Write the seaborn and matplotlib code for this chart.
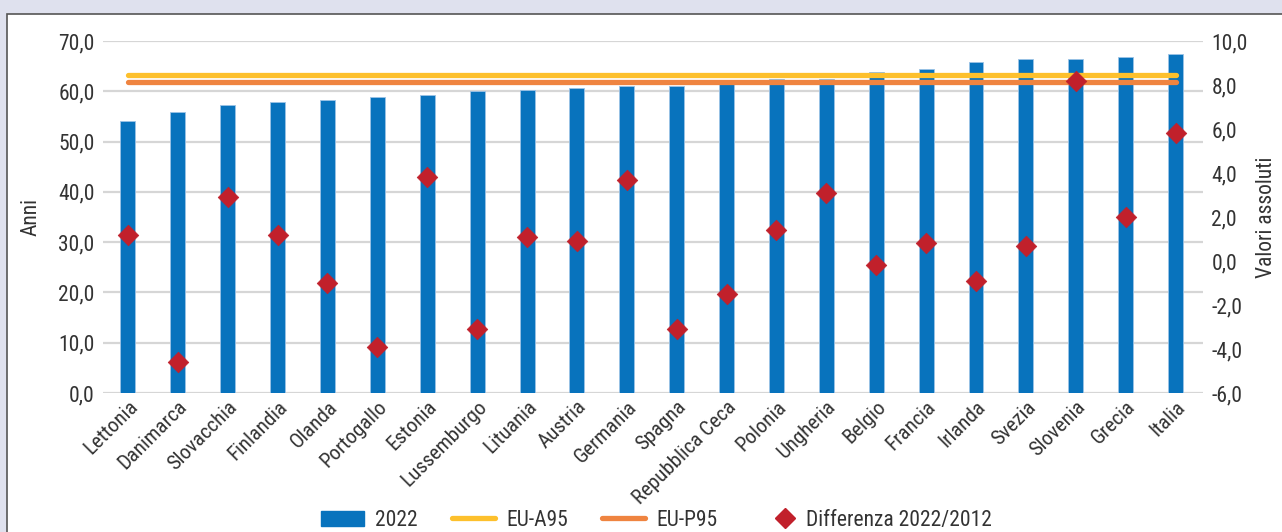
import numpy as np
import pandas as pd
import seaborn as sns
import matplotlib.pyplot as plt
from matplotlib import font_manager
from matplotlib.patches import Rectangle
from matplotlib.lines import Line2D
from matplotlib.legend_handler import HandlerLine2D
from matplotlib.ticker import FuncFormatter, MultipleLocator

# data
countries = ["Lettonia", "Danimarca", "Slovacchia", "Finlandia", "Olanda", "Portogallo",
             "Estonia", "Lussemburgo", "Lituania", "Austria", "Germania", "Spagna",
             "Repubblica Ceca", "Polonia", "Ungheria", "Belgio", "Francia", "Irlanda",
             "Svezia", "Slovenia", "Grecia", "Italia"]
val_2022 = [54.1, 55.8, 57.3, 57.9, 58.3, 58.9, 59.3, 60.0, 60.3, 60.6, 61.0, 61.0,
            61.5, 62.4, 62.4, 63.8, 64.4, 65.8, 66.5, 66.5, 66.8, 67.5]
diff_2022_2012 = [1.2, -4.6, 2.9, 1.2, -1.0, -3.9, 3.8, -3.1, 1.1, 0.9, 3.7, -3.1,
                  -1.5, 1.4, 3.1, -0.2, 0.8, -0.9, 0.7, 8.2, 2.0, 5.8]
eu_a95 = 63.2
eu_p95 = 61.8

BLUE = "#0873BD"
YELLOW = "#FDC02C"
ORANGE = "#EF8440"
RED = "#C1202B"
TXT = "#333333"

df = pd.DataFrame({"paese": countries, "anni": val_2022, "diff": diff_2022_2012})
xpos = np.arange(len(countries))

# pick a narrow face if one exists, else Liberation Sans
names = {f.name for f in font_manager.fontManager.ttflist}
fam = "Liberation Sans"
for cand in ["Liberation Sans Narrow", "Roboto Condensed", "Open Sans Condensed", "Arial Narrow"]:
    if cand in names:
        fam = cand
        break

sns.set_style("white")
plt.rcParams["font.family"] = [fam, "DejaVu Sans"]
plt.rcParams["text.color"] = TXT


class DiamondHandle(Line2D):
    pass


class MarkerRight(HandlerLine2D):
    # put the legend diamond at the right end of its slot, next to the text
    def create_artists(self, legend, orig_handle, xdescent, ydescent, width, height,
                       fontsize, trans):
        ms = orig_handle.get_markersize()
        x = width - xdescent - ms * 0.7
        y = (height - ydescent) / 2
        m = Line2D([x], [y], marker="D", ls="none", color=orig_handle.get_color(),
                   markersize=ms, transform=trans)
        return [m]


fig = plt.figure(figsize=(12.82, 5.32), dpi=100, facecolor="#DFE1EE")
# white panel with border
fig.patches.append(Rectangle((7 / 1282, -0.05), 1.05, 1 - 14 / 532 + 0.05,
                             transform=fig.transFigure, facecolor="white",
                             edgecolor="#555555", linewidth=1.2, zorder=-10))

ax = fig.add_axes([103 / 1282, 1 - 393 / 532, 1100 / 1282, 352 / 532])
ax.set_facecolor("none")

sns.barplot(data=df, x="paese", y="anni", color=BLUE, width=0.3, saturation=1,
            edgecolor="#9CC3E6", linewidth=0.6, ax=ax, zorder=3)
ax.plot(xpos, [eu_a95] * len(xpos), color=YELLOW, lw=3.8, solid_capstyle="round", zorder=4)
ax.plot(xpos, [eu_p95] * len(xpos), color=ORANGE, lw=3.8, solid_capstyle="round", zorder=4)

ax.set_ylim(0, 70)
ax.set_xlim(-0.5, len(countries) - 0.45)
ax.yaxis.set_major_locator(MultipleLocator(10))
ax.yaxis.set_major_formatter(FuncFormatter(lambda v, p: f"{v:.1f}".replace(".", ",")))
ax.grid(axis="y", color="#D6D6D6", lw=1.6, zorder=0)
ax.set_axisbelow(True)
for s in ax.spines.values():
    s.set_visible(False)
ax.tick_params(axis="y", length=0, labelsize=15.5, colors=TXT, pad=6)
ax.tick_params(axis="x", length=0, labelsize=15, colors=TXT, pad=3)
ax.set_xlabel("")
ax.set_ylabel("Anni", fontsize=15.5, color=TXT, labelpad=12)
plt.setp(ax.get_xticklabels(), rotation=45, ha="right", rotation_mode="anchor")

ax2 = ax.twinx()
sns.scatterplot(x=xpos, y=diff_2022_2012, marker="D", s=110, color=RED,
                edgecolor=RED, linewidth=0.5, ax=ax2, zorder=5)
ax2.set_ylim(-6, 10)
ax2.yaxis.set_major_locator(MultipleLocator(2))
ax2.yaxis.set_major_formatter(FuncFormatter(lambda v, p: f"{v:.1f}".replace(".", ",")))
for s in ax2.spines.values():
    s.set_visible(False)
ax2.tick_params(axis="y", length=0, labelsize=15.5, colors=TXT, pad=6)
ax2.set_ylabel("Valori assoluti", fontsize=15.5, color=TXT, labelpad=6)

diamond = DiamondHandle([], [], color=RED, marker="D", ls="none", markersize=10)
handles = [
    Rectangle((0, 0), 1, 1, color=BLUE),
    Line2D([], [], color=YELLOW, lw=3.8, solid_capstyle="round"),
    Line2D([], [], color=ORANGE, lw=3.8, solid_capstyle="round"),
    diamond,
]
fig.legend(handles, ["2022", "EU-A95", "EU-P95", "Differenza 2022/2012"],
           loc="center", bbox_to_anchor=(0.512, 0.022), ncol=4, frameon=False,
           fontsize=15.5, handlelength=2.0, columnspacing=1.6, handletextpad=0.5,
           handler_map={DiamondHandle: MarkerRight()})

fig.savefig("out.png", dpi=100, facecolor=fig.get_facecolor())
